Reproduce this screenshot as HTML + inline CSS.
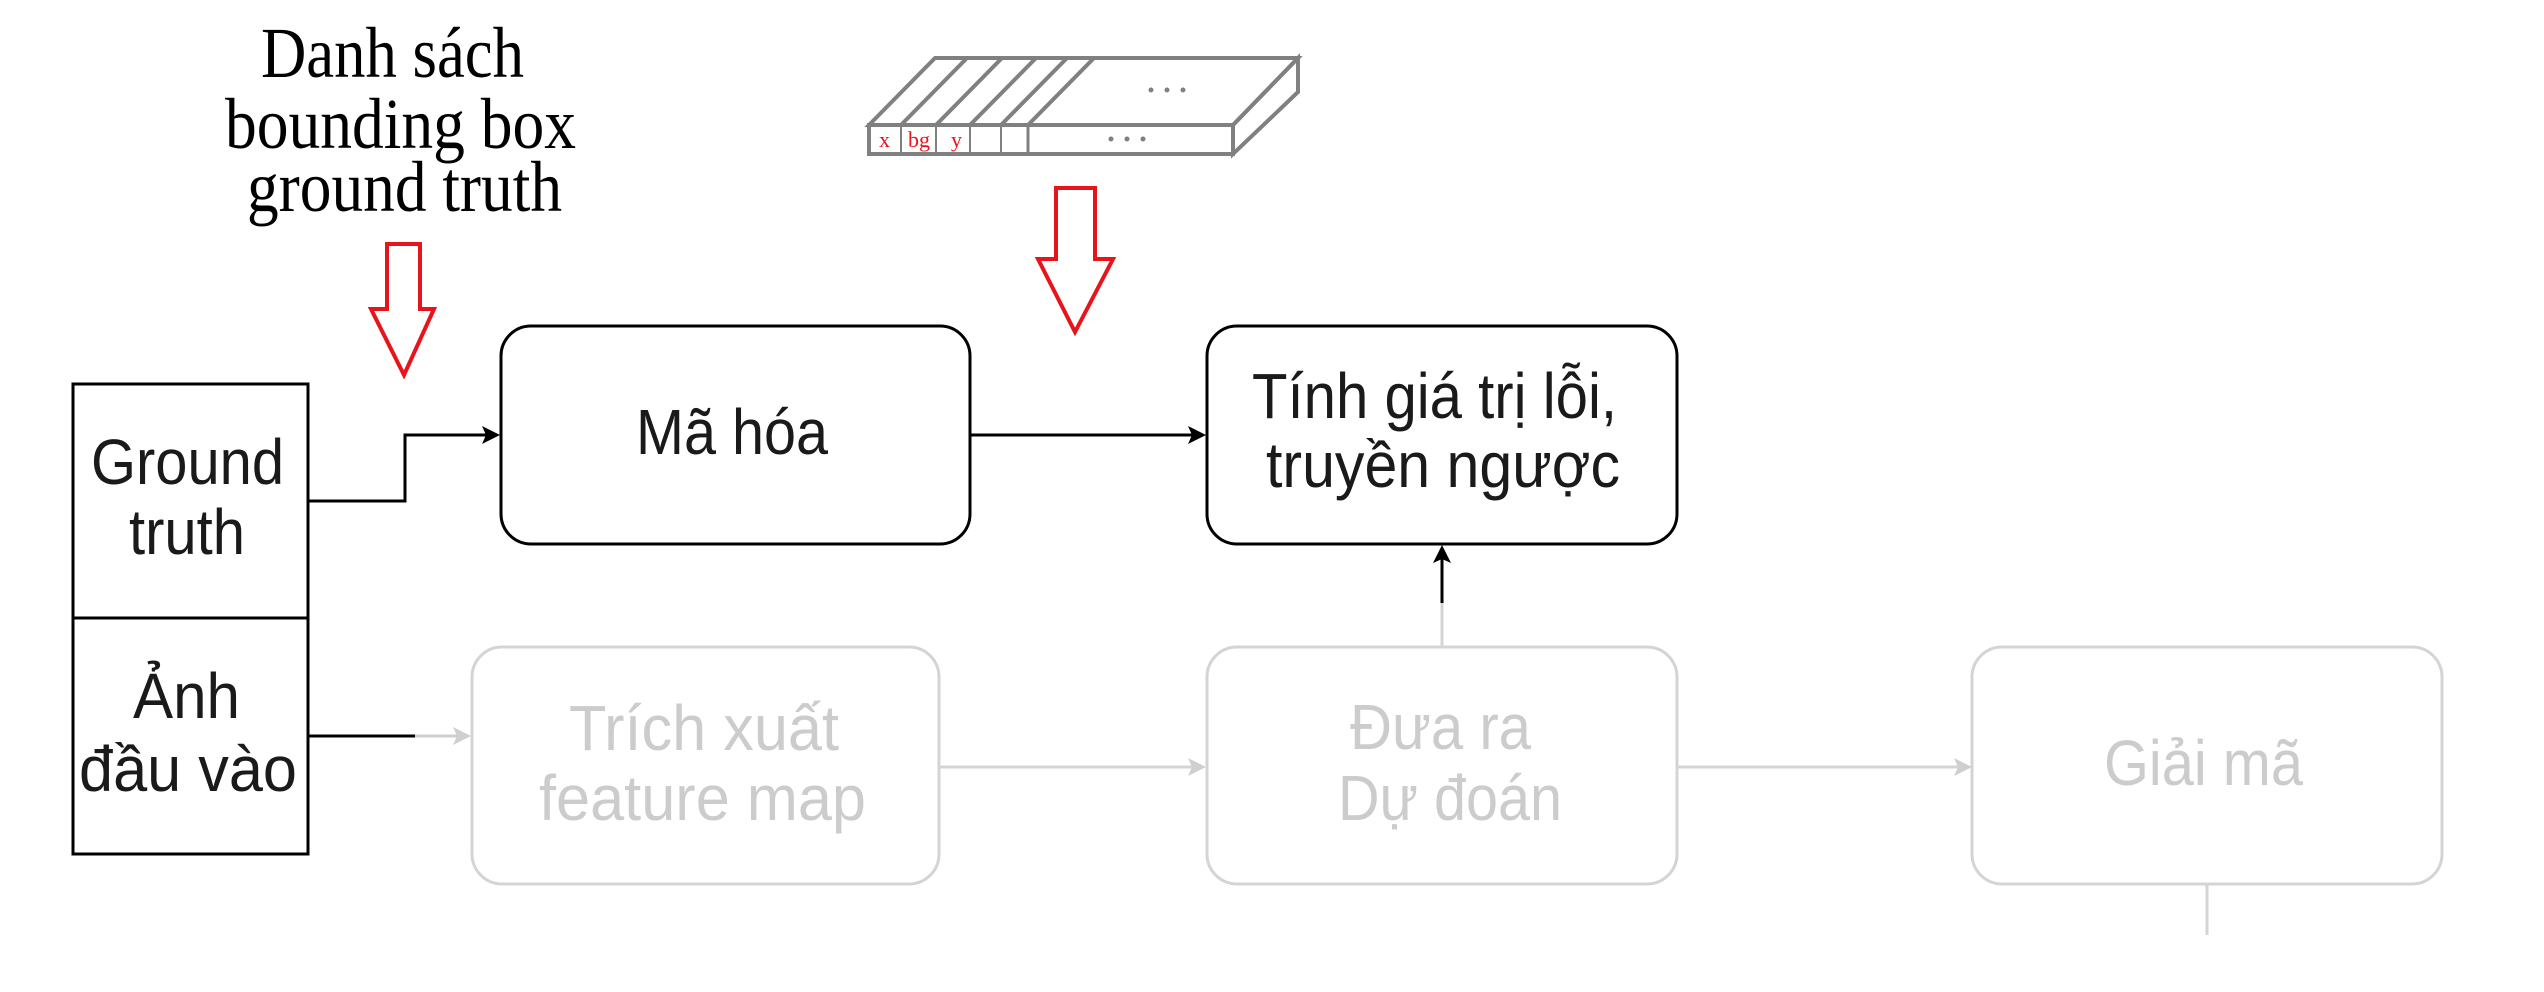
<!DOCTYPE html>
<html><head><meta charset="utf-8"><style>html,body{margin:0;padding:0;background:#fff}svg{display:block}</style></head>
<body>
<svg width="2544" height="992" viewBox="0 0 2544 992" xmlns="http://www.w3.org/2000/svg">
<g font-family="Liberation Serif, serif" font-size="72" fill="#000">
<text x="261" y="77" textLength="263" lengthAdjust="spacingAndGlyphs">Danh sách</text>
<text x="225" y="148" textLength="351" lengthAdjust="spacingAndGlyphs">bounding box</text>
<text x="247" y="211" textLength="315" lengthAdjust="spacingAndGlyphs">ground truth</text>
</g>
<polygon points="387,244 420,244 420,309 434,309 404,375 371,309 387,309" fill="#fff" stroke="#e8141c" stroke-width="4"/>
<polygon points="1056,188 1095,188 1095,259 1113,259 1075,332 1038,259 1056,259" fill="#fff" stroke="#e8141c" stroke-width="4"/>
<g stroke="#808080" stroke-width="4" fill="none">
<polygon points="869,125 935,58 1298,58 1233,125"/>
<polygon points="1233,125 1298,58 1298,92 1233,154"/>
<rect x="869" y="125" width="364" height="29"/>
<line x1="901" y1="125" x2="967" y2="58"/><line x1="936" y1="125" x2="1002" y2="58"/>
<line x1="970" y1="125" x2="1036" y2="58"/><line x1="1001" y1="125" x2="1067" y2="58"/>
<line x1="1028" y1="125" x2="1094" y2="58"/>
<line x1="901" y1="125" x2="901" y2="154" stroke-width="2"/><line x1="936" y1="125" x2="936" y2="154" stroke-width="2"/>
<line x1="970" y1="125" x2="970" y2="154" stroke-width="2"/><line x1="1001" y1="125" x2="1001" y2="154" stroke-width="2"/>
<line x1="1028" y1="125" x2="1028" y2="154" stroke-width="3"/>
</g>
<g fill="#808080"><circle cx="1151" cy="90" r="2.5"/><circle cx="1167" cy="90" r="2.5"/><circle cx="1183" cy="90" r="2.5"/>
<circle cx="1111" cy="139" r="2.5"/><circle cx="1127" cy="139" r="2.5"/><circle cx="1143" cy="139" r="2.5"/></g>
<g font-family="Liberation Serif, serif" font-size="22" fill="#e8141c">
<text x="879" y="147">x</text><text x="908" y="147">bg</text><text x="951" y="147">y</text></g>
<rect x="73" y="384" width="235" height="470" fill="none" stroke="#000" stroke-width="3"/>
<line x1="73" y1="618" x2="308" y2="618" stroke="#000" stroke-width="3"/>
<rect x="501" y="326" width="469" height="218" rx="30" fill="none" stroke="#000" stroke-width="3"/>
<rect x="1207" y="326" width="470" height="218" rx="30" fill="none" stroke="#000" stroke-width="3"/>
<g fill="none" stroke="#d4d4d4" stroke-width="3">
<rect x="472" y="647" width="467" height="237" rx="30"/>
<rect x="1207" y="647" width="470" height="237" rx="30"/>
<rect x="1972" y="647" width="470" height="237" rx="30"/>
</g>
<polyline points="308,501 405,501 405,435 488,435" fill="none" stroke="#000" stroke-width="3"/>
<polygon points="500,435 482,426 486,435 482,444" fill="#000"/>
<line x1="970" y1="435" x2="1194" y2="435" stroke="#000" stroke-width="3"/>
<polygon points="1206,435 1188,426 1192,435 1188,444" fill="#000"/>
<line x1="308" y1="736" x2="415" y2="736" stroke="#000" stroke-width="3"/>
<line x1="415" y1="736" x2="460" y2="736" stroke="#cfcfcf" stroke-width="3"/>
<polygon points="471,736 453,727 457,736 453,745" fill="#cfcfcf"/>
<line x1="939" y1="767" x2="1195" y2="767" stroke="#d4d4d4" stroke-width="3"/>
<polygon points="1206,767 1188,758 1192,767 1188,776" fill="#cfcfcf"/>
<line x1="1677" y1="767" x2="1961" y2="767" stroke="#d4d4d4" stroke-width="3"/>
<polygon points="1972,767 1954,758 1958,767 1954,776" fill="#cfcfcf"/>
<line x1="1442" y1="647" x2="1442" y2="603" stroke="#d4d4d4" stroke-width="3"/>
<line x1="1442" y1="603" x2="1442" y2="556" stroke="#000" stroke-width="3"/>
<polygon points="1442,545 1433,563 1442,559 1451,563" fill="#000"/>
<line x1="2207" y1="884" x2="2207" y2="935" stroke="#d4d4d4" stroke-width="3"/>
<g font-family="Liberation Sans, Arial, sans-serif" font-size="64" fill="#1a1a1a">
<text x="91" y="484" textLength="193" lengthAdjust="spacingAndGlyphs">Ground</text>
<text x="129" y="554" textLength="116" lengthAdjust="spacingAndGlyphs">truth</text>
<text x="133" y="718" textLength="107" lengthAdjust="spacingAndGlyphs">Ảnh</text>
<text x="79" y="791" textLength="218" lengthAdjust="spacingAndGlyphs">đầu vào</text>
<text x="636" y="454" textLength="192" lengthAdjust="spacingAndGlyphs">Mã hóa</text>
<text x="1252" y="418" textLength="365" lengthAdjust="spacingAndGlyphs">Tính giá trị lỗi,</text>
<text x="1266" y="487" textLength="354" lengthAdjust="spacingAndGlyphs">truyền ngược</text>
</g>
<g font-family="Liberation Sans, Arial, sans-serif" font-size="64" fill="#cccccc">
<text x="569" y="750" textLength="270" lengthAdjust="spacingAndGlyphs">Trích xuất</text>
<text x="539" y="820" textLength="327" lengthAdjust="spacingAndGlyphs">feature map</text>
<text x="1350" y="749" textLength="181" lengthAdjust="spacingAndGlyphs">Đưa ra</text>
<text x="1338" y="820" textLength="224" lengthAdjust="spacingAndGlyphs">Dự đoán</text>
<text x="2104" y="785" textLength="199" lengthAdjust="spacingAndGlyphs">Giải mã</text>
</g>
</svg>
</body></html>
